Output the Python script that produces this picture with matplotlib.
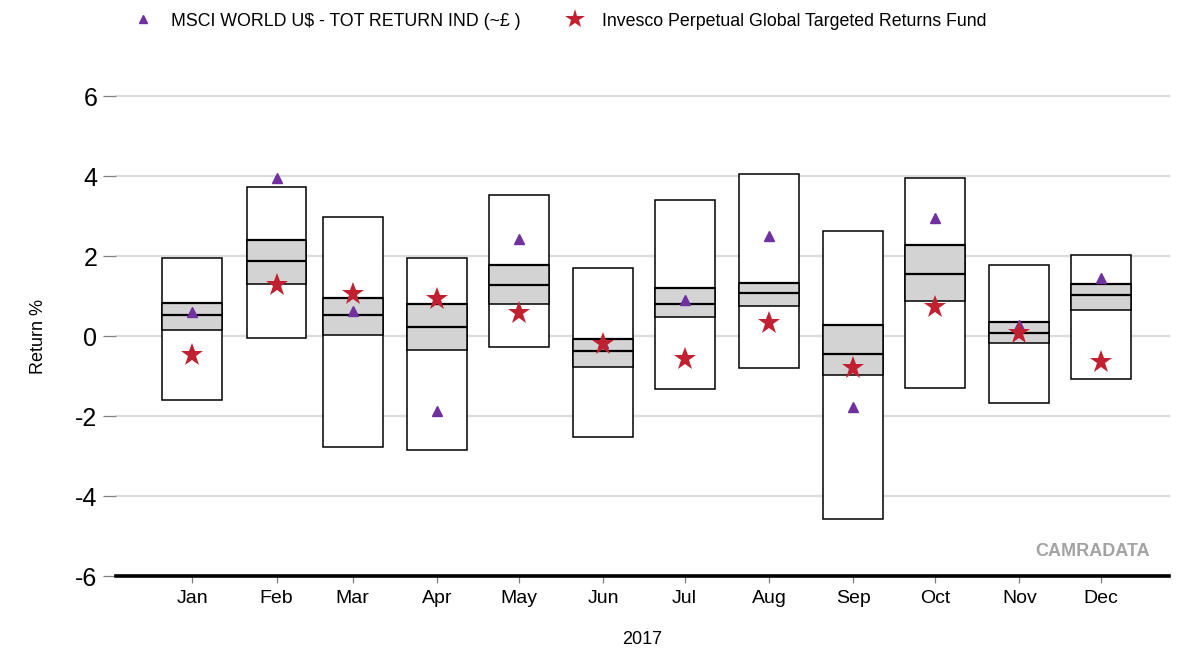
import matplotlib
matplotlib.use("Agg")
import matplotlib.pyplot as plt
import matplotlib.dates as mdates
from matplotlib.lines import Line2D
import pandas as pd

plt.rcParams['font.family'] = ['Liberation Sans', 'DejaVu Sans']

months = ["Jan", "Feb", "Mar", "Apr", "May", "Jun", "Jul", "Aug", "Sep", "Oct", "Nov", "Dec"]
dates = ["2017-01-15", "2017-02-15", "2017-03-15", "2017-04-15", "2017-05-15", "2017-06-15",
         "2017-07-15", "2017-08-15", "2017-09-15", "2017-10-15", "2017-11-15", "2017-12-15"]

range_high = [1.96, 3.73, 2.97, 1.96, 3.53, 1.69, 3.39, 4.06, 2.63, 3.95, 1.77, 2.03]
range_low = [-1.59, -0.06, -2.78, -2.86, -0.28, -2.53, -1.33, -0.79, -4.58, -1.30, -1.67, -1.07]
q_upper = [0.82, 2.40, 0.96, 0.81, 1.77, -0.08, 1.19, 1.33, 0.27, 2.28, 0.35, 1.30]
median = [0.52, 1.88, 0.53, 0.23, 1.27, -0.37, 0.81, 1.08, -0.46, 1.56, 0.07, 1.03]
q_lower = [0.14, 1.29, 0.02, -0.34, 0.81, -0.78, 0.47, 0.76, -0.97, 0.87, -0.18, 0.64]

msci = [0.59, 3.94, 0.63, -1.87, 2.43, -0.17, 0.90, 2.50, -1.77, 2.96, 0.27, 1.44]
fund = [-0.48, 1.27, 1.04, 0.93, 0.57, -0.20, -0.57, 0.33, -0.81, 0.73, 0.08, -0.64]

yticks = [-6, -4, -2, 0, 2, 4, 6]
x_label = "2017"
y_label = "Return %"
legend_labels = ["MSCI WORLD U$ - TOT RETURN IND (~£ )", "Invesco Perpetual Global Targeted Returns Fund"]

x = mdates.date2num(pd.to_datetime(dates))
box_w = 22.0

fig = plt.figure(figsize=(11.85, 6.52), dpi=100)
ax = fig.add_axes([116 / 1185, 1 - 576 / 652, (1169 - 116) / 1185, (576 - 96) / 652])

ax.set_ylim(-6, 6)
ax.set_xlim(mdates.date2num(pd.Timestamp("2016-12-18")), mdates.date2num(pd.Timestamp("2018-01-09")))

for yv in yticks[1:]:
    ax.axhline(yv, color="#dcdcdc", lw=1.6, zorder=0, clip_on=False)

h_full = [h - l for h, l in zip(range_high, range_low)]
ax.bar(x, h_full, bottom=range_low, width=box_w, facecolor="white", edgecolor="black", linewidth=1.1, zorder=2)
h_q = [u - l for u, l in zip(q_upper, q_lower)]
ax.bar(x, h_q, bottom=q_lower, width=box_w, facecolor="#d3d3d3", edgecolor="black", linewidth=1.1, zorder=3)
ax.hlines(q_upper, x - box_w / 2, x + box_w / 2, color="black", lw=1.6, zorder=4)
ax.hlines(median, x - box_w / 2, x + box_w / 2, color="black", lw=1.6, zorder=4)

ax.plot(x, msci, linestyle="none", marker="^", color="#7030a0", markersize=7, zorder=5, clip_on=False)
ax.plot(x, fund, linestyle="none", marker="*", color="#c0202f", markersize=17, markeredgewidth=0, zorder=6,
        clip_on=False)

ax.set_yticks(yticks)
ax.set_yticklabels([str(v) for v in yticks], fontsize=18)
ax.set_xticks(x)
ax.set_xticklabels(months, fontsize=14)
ax.tick_params(axis="y", length=9.5, width=0.9, color="#808080", pad=4)
ax.tick_params(axis="x", length=5, width=0.9, color="#808080", pad=5)

for s in ["left", "right", "top"]:
    ax.spines[s].set_visible(False)
ax.spines["bottom"].set_color("black")
ax.spines["bottom"].set_linewidth(2.6)
ax.spines["bottom"].set_zorder(7)

ax.set_ylabel(y_label, fontsize=13, labelpad=20)
ax.set_xlabel(x_label, fontsize=13, labelpad=17)

ax.text(0.982, 0.0505, "CAMRADATA", transform=ax.transAxes, ha="right", va="center",
        fontsize=13, fontweight="bold", color="#a3a3a3")

handles = [
    Line2D([], [], linestyle="none", marker="^", color="#7030a0", markersize=6),
    Line2D([], [], linestyle="none", marker="*", color="#c0202f", markersize=15, markeredgewidth=0),
]
fig.legend(handles, legend_labels, loc="center left", bbox_to_anchor=(114 / 1185, 1 - 21 / 652),
           ncol=2, frameon=False, fontsize=12.8, handlelength=1.5, handletextpad=0.8, columnspacing=2.3)

fig.savefig("out.png", dpi=100)
